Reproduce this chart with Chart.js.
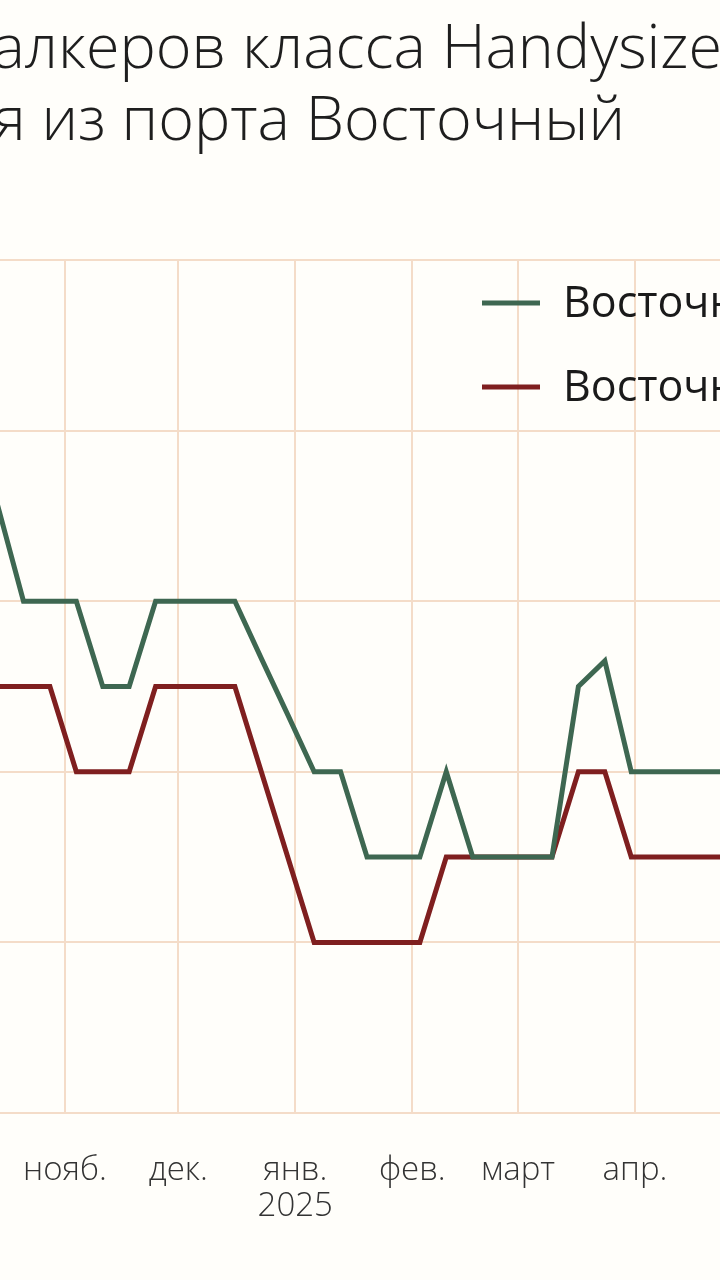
<!DOCTYPE html>
<html lang="ru">
<head>
<meta charset="utf-8">
<script src="https://cdn.jsdelivr.net/npm/chart.js@4.4.1/dist/chart.umd.min.js"></script>
<style>
  html, body { margin:0; padding:0; width:720px; height:1280px; overflow:hidden; background:#fffefa; }
  .tl { position:absolute; white-space:nowrap; font-family:"Open Sans","Noto Sans",sans-serif; font-weight:300; font-size:61px; line-height:72px; color:#1e1e1e; }
  #t1 { top:9px; }
  #t2 { top:81px; }
  #wrap { position:absolute; top:0; left:-400px; width:1500px; height:1280px; }
</style>
</head>
<body>
<div class="tl" id="t1"><span class="pre">Ставки фрахта б</span><span class="vis">алкеров класса Handysize</span><span> при</span></div>
<div class="tl" id="t2"><span class="pre">для отправлен</span><span class="vis">ия из порта Восточный</span></div>
<div id="wrap"><canvas id="c" width="1500" height="1280"></canvas></div>
<script>
// ---- data ----
const weekDates = ["2024-10-14","2024-10-21","2024-10-28","2024-11-04","2024-11-11","2024-11-18","2024-11-25",
  "2024-12-02","2024-12-09","2024-12-16","2024-12-23","2024-12-30","2025-01-06","2025-01-13","2025-01-20",
  "2025-01-27","2025-02-03","2025-02-10","2025-02-17","2025-02-24","2025-03-03","2025-03-10","2025-03-17",
  "2025-03-24","2025-03-31","2025-04-07","2025-04-14","2025-04-21","2025-04-28"];
const seriesGreen = [17.15,16,16,16,15,15,16,16,16,16,15.33,14.67,14,14,13,13,13,14,13,13,13,13,15,15.3,14,14,14,14,14];
const seriesRed   = [15,15,15,14,14,14,15,15,15,15,14,13,12,12,12,12,12,13,13,13,13,13,14,14,13,13,13,13,13];
const seriesNames = ["Восточный → Китай", "Восточный → Юж. Корея"];
const monthStarts = ["2024-08-01","2024-09-01","2024-10-01","2024-11-01","2024-12-01","2025-01-01",
  "2025-02-01","2025-03-01","2025-04-01","2025-05-01","2025-06-01","2025-07-01"];
const monthLabels = ["авг.","сент.","окт.","нояб.","дек.",["янв.","2025"],"фев.","март","апр.","май","июнь","июль"];
const yTicks = [10,12,14,16,18,20];

// day offsets from a reference date
const REF = Date.UTC(2024,10,1);
function dayOf(s){ const [y,m,d]=s.split("-").map(Number); return (Date.UTC(y,m-1,d)-REF)/86400000; }

const greenPts = weekDates.map((d,i)=>({x:dayOf(d), y:seriesGreen[i]}));
const redPts   = weekDates.map((d,i)=>({x:dayOf(d), y:seriesRed[i]}));
const tickDays = monthStarts.map(dayOf);

const GRID = "#f4dcc8";
const PX_PER_DAY = 3.775, LEFT_PAGE = -400, NOV_PAGE = 65, AREA_W = 1500;
const xMin = (LEFT_PAGE - NOV_PAGE)/PX_PER_DAY;
const xMax = xMin + AREA_W/PX_PER_DAY;

const legendPlugin = {
  id:"insideLegend",
  afterDraw(chart){
    const ctx = chart.ctx;
    const ds = chart.data.datasets;
    const x0 = 482 - LEFT_PAGE, x1 = 540 - LEFT_PAGE, tx = 563 - LEFT_PAGE;
    const ys = [303, 387];
    ctx.save();
    ds.forEach((d,i)=>{
      ctx.strokeStyle = d.borderColor; ctx.lineWidth = 5; ctx.lineCap="butt";
      ctx.beginPath(); ctx.moveTo(x0, ys[i]); ctx.lineTo(x1, ys[i]); ctx.stroke();
      ctx.fillStyle = "#1a1a1a";
      ctx.font = '400 43px "Open Sans","Noto Sans",sans-serif';
      ctx.textBaseline = "middle";
      ctx.fillText(d.label, tx, ys[i]+2);
    });
    ctx.restore();
  }
};

new Chart(document.getElementById("c"), {
  type:"line",
  data:{ datasets:[
    { label:seriesNames[0], data:greenPts, borderColor:"#3e6751", borderWidth:5, pointRadius:0, tension:0, fill:false },
    { label:seriesNames[1], data:redPts, borderColor:"#7f1f1f", borderWidth:5, pointRadius:0, tension:0, fill:false }
  ]},
  options:{
    responsive:false, animation:false, devicePixelRatio:1,
    layout:{ padding:{ top:260, bottom:57, left:0, right:0 } },
    plugins:{ legend:{display:false}, title:{display:false}, tooltip:{enabled:false} },
    scales:{
      x:{
        type:"linear", min:xMin, max:xMax,
        afterBuildTicks(scale){ scale.ticks = tickDays.filter(v=>v>=xMin+25 && v<=xMax-25).map(v=>({value:v})); },
        afterFit(scale){ scale.height = 110; scale.paddingLeft = 0; scale.paddingRight = 0; },
        grid:{ color:GRID, lineWidth:2, drawTicks:false },
        border:{ color:GRID, width:2 },
        ticks:{
          autoSkip:false, maxRotation:0, padding:39, color:"#333333",
          font:{ family:'"Open Sans","Noto Sans",sans-serif', size:33, weight:300, lineHeight:1.1 },
          callback(v){ const i = tickDays.indexOf(v); return i>=0 ? monthLabels[i] : ""; }
        }
      },
      y:{
        min:yTicks[0], max:yTicks[yTicks.length-1],
        afterBuildTicks(scale){ scale.ticks = yTicks.map(v=>({value:v})); },
        afterFit(scale){ scale.width = 0; },
        grid:{ color:GRID, lineWidth:2, drawTicks:false },
        border:{ display:false },
        ticks:{ display:false }
      }
    }
  },
  plugins:[legendPlugin]
});

// place title lines so the visible part ends where the reference shows it
const targets = { t1: 722, t2: 625 };
document.querySelectorAll(".tl").forEach(el=>{
  const pre = el.querySelector(".pre").getBoundingClientRect().width;
  const vis = el.querySelector(".vis").getBoundingClientRect().width;
  el.style.left = (targets[el.id] - pre - vis) + "px";
});
</script>
</body>
</html>
